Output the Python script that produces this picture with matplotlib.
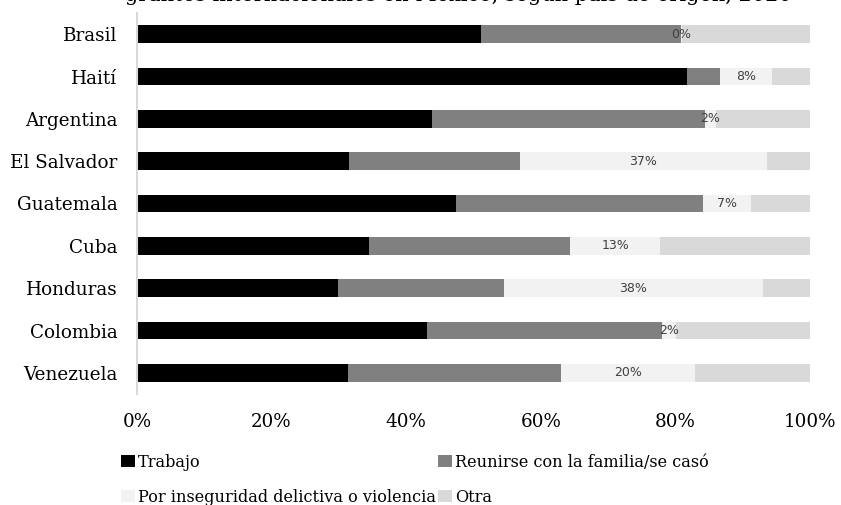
import matplotlib
matplotlib.use("Agg")
import matplotlib.pyplot as plt
import numpy as np

countries = ["Brasil", "Haití", "Argentina", "El Salvador", "Guatemala",
             "Cuba", "Honduras", "Colombia", "Venezuela"]
trabajo = [51.1, 81.7, 43.8, 31.5, 47.4, 34.5, 29.9, 43.1, 31.4]
familia = [29.7, 5.0, 40.6, 25.4, 36.7, 29.9, 24.6, 34.9, 31.6]
inseguridad = [0.2, 7.7, 1.6, 36.7, 7.1, 13.3, 38.5, 2.1, 19.9]
otra = [19.0, 5.6, 14.0, 6.4, 8.8, 22.3, 7.0, 19.9, 17.1]
inseg_labels = ["0%", "8%", "2%", "37%", "7%", "13%", "38%", "2%", "20%"]
series_names = ["Trabajo", "Reunirse con la familia/se casó",
                "Por inseguridad delictiva o violencia", "Otra"]
colors = ["#000000", "#808080", "#F2F2F2", "#D9D9D9"]
xticks = [0, 20, 40, 60, 80, 100]
xtick_labels = ["0%", "20%", "40%", "60%", "80%", "100%"]
title = "grantes internacionales en México, según país de origen, 2020"

W, H = 841, 505
fig = plt.figure(figsize=(W / 100, H / 100), dpi=100)
ax = fig.add_axes([137 / W, 1 - 394 / H, 673 / W, 381 / H])

y = np.arange(len(countries))
left = np.zeros(len(countries))
bars = []
for vals, name, col in zip([trabajo, familia, inseguridad, otra], series_names, colors):
    b = ax.barh(y, vals, left=left, height=0.41, color=col, label=name, edgecolor="none")
    bars.append(b)
    left = left + np.array(vals)

# data labels on inseguridad segment
starts = np.array(trabajo) + np.array(familia)
for yi, s, v, lab in zip(y, starts, inseguridad, inseg_labels):
    ax.text(s + v / 2, yi, lab, ha="center", va="center", fontsize=9,
            color="#404040", family="DejaVu Sans")

ax.set_ylim(len(countries) - 0.5, -0.5)
ax.set_xlim(0, 100)
ax.set_yticks(y)
ax.set_yticklabels(countries, family="DejaVu Serif", fontsize=13.2)
ax.set_xticks(xticks)
ax.set_xticklabels(xtick_labels, family="DejaVu Serif", fontsize=13.2)
ax.tick_params(axis="y", length=0, pad=14)
ax.tick_params(axis="x", length=0, pad=14)
for s in ["top", "right", "bottom"]:
    ax.spines[s].set_visible(False)
ax.spines["left"].set_color("#D9D9D9")
ax.spines["left"].set_linewidth(1.5)

# row-major ordering for a 2-column legend
order = [0, 2, 1, 3]
fig.legend(handles=[bars[i] for i in order], labels=[series_names[i] for i in order],
           ncol=2, loc="upper left",
           bbox_to_anchor=(121 / W, 1 - 454 / H), frameon=False,
           prop={"family": "DejaVu Serif", "size": 11.6},
           handlelength=0.85, handleheight=0.75, handletextpad=0.2,
           columnspacing=0.15, labelspacing=1.1, borderpad=0, borderaxespad=0)

fig.text(458 / W, 1 - 1 / H, title, ha="center", va="baseline",
         family="DejaVu Serif", fontsize=15)

fig.savefig("out.png", dpi=100)
